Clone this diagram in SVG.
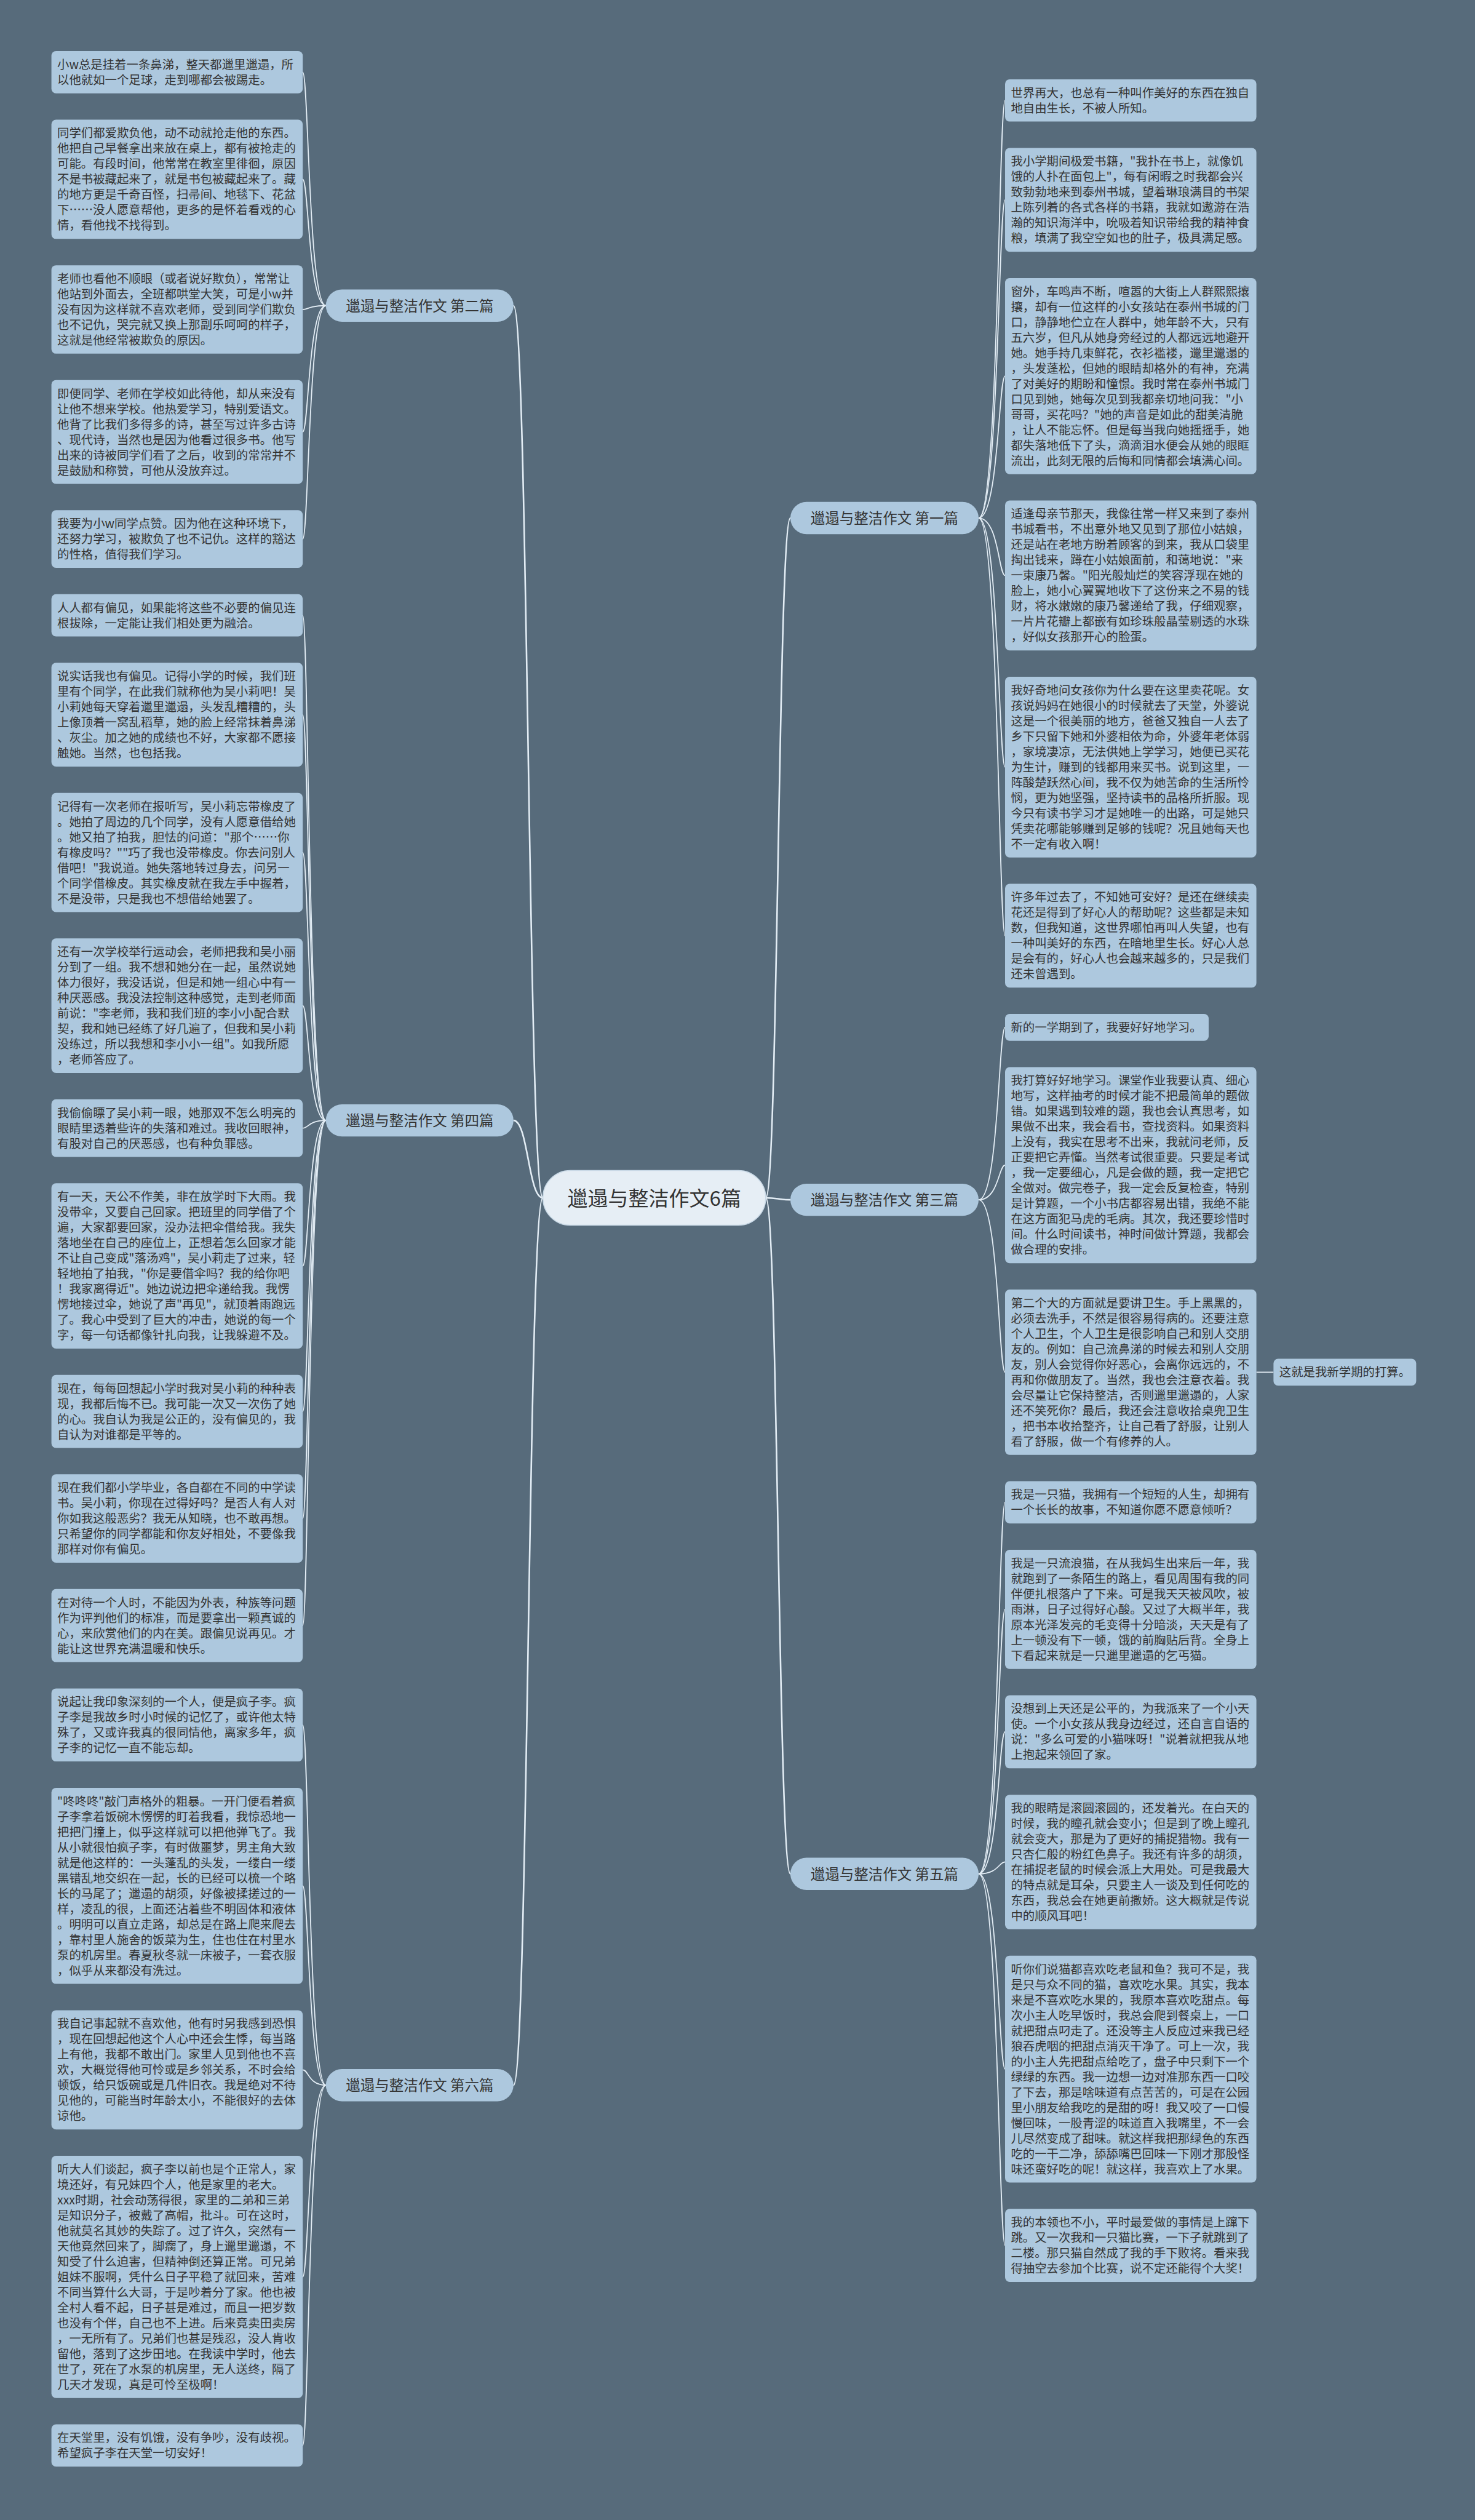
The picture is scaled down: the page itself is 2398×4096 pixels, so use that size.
<svg xmlns="http://www.w3.org/2000/svg" width="2398" height="4096" viewBox="0 0 2398 4096">
<style>
.leaf{fill:#adc8de}
.br{fill:#adc8de}
.t{font-family:"Noto Sans CJK SC","Noto Sans",sans-serif;font-size:19.4px;fill:#333}
.bt{font-family:"Noto Sans CJK SC","Noto Sans",sans-serif;font-size:23.5px;fill:#333;text-anchor:middle}
.ct{font-family:"Noto Sans CJK SC","Noto Sans",sans-serif;font-size:33px;fill:#333;text-anchor:middle}
.c{fill:none;stroke:#e3edf5;stroke-width:1.8}
.cm{fill:none;stroke:#e3edf5;stroke-width:2.6}
</style>
<rect width="2398" height="4096" fill="#576b7b"/>
<g id="connectors">
<path class="cm" d="M882.6 1947 C858.7 1947 858.7 496.75 834.8 496.75"/>
<path class="cm" d="M882.6 1947 C858.7 1947 858.7 1821.14 834.8 1821.14"/>
<path class="cm" d="M882.6 1947 C858.7 1947 858.7 3389.28 834.8 3389.28"/>
<path class="cm" d="M1244.9 1947 C1265 1947 1265 842.06 1285 842.06"/>
<path class="cm" d="M1244.9 1947 C1265 1947 1265 1950.15 1285 1950.15"/>
<path class="cm" d="M1244.9 1947 C1265 1947 1265 3045.74 1285 3045.74"/>
<path class="c" d="M529.8 496.75 C501.6 496.75 501.6 117.46 492.2 117.46"/>
<path class="c" d="M529.8 496.75 C501.6 496.75 501.6 291.48 492.2 291.48"/>
<path class="c" d="M529.8 496.75 C501.6 496.75 501.6 503 492.2 503"/>
<path class="c" d="M529.8 496.75 C501.6 496.75 501.6 702.02 492.2 702.02"/>
<path class="c" d="M529.8 496.75 C501.6 496.75 501.6 876.04 492.2 876.04"/>
<path class="c" d="M529.8 1821.14 C501.6 1821.14 501.6 1000.06 492.2 1000.06"/>
<path class="c" d="M529.8 1821.14 C501.6 1821.14 501.6 1161.58 492.2 1161.58"/>
<path class="c" d="M529.8 1821.14 C501.6 1821.14 501.6 1385.6 492.2 1385.6"/>
<path class="c" d="M529.8 1821.14 C501.6 1821.14 501.6 1634.62 492.2 1634.62"/>
<path class="c" d="M529.8 1821.14 C501.6 1821.14 501.6 1833.64 492.2 1833.64"/>
<path class="c" d="M529.8 1821.14 C501.6 1821.14 501.6 2057.66 492.2 2057.66"/>
<path class="c" d="M529.8 1821.14 C501.6 1821.14 501.6 2294.18 492.2 2294.18"/>
<path class="c" d="M529.8 1821.14 C501.6 1821.14 501.6 2468.2 492.2 2468.2"/>
<path class="c" d="M529.8 1821.14 C501.6 1821.14 501.6 2642.22 492.2 2642.22"/>
<path class="c" d="M529.8 3389.28 C501.6 3389.28 501.6 2803.74 492.2 2803.74"/>
<path class="c" d="M529.8 3389.28 C501.6 3389.28 501.6 3065.26 492.2 3065.26"/>
<path class="c" d="M529.8 3389.28 C501.6 3389.28 501.6 3364.28 492.2 3364.28"/>
<path class="c" d="M529.8 3389.28 C501.6 3389.28 501.6 3700.8 492.2 3700.8"/>
<path class="c" d="M529.8 3389.28 C501.6 3389.28 501.6 3974.82 492.2 3974.82"/>
<path class="c" d="M1591 842.06 C1623.5 842.06 1623.5 163.26 1634 163.26"/>
<path class="c" d="M1591 842.06 C1623.5 842.06 1623.5 324.78 1634 324.78"/>
<path class="c" d="M1591 842.06 C1623.5 842.06 1623.5 611.3 1634 611.3"/>
<path class="c" d="M1591 842.06 C1623.5 842.06 1623.5 935.32 1634 935.32"/>
<path class="c" d="M1591 842.06 C1623.5 842.06 1623.5 1246.84 1634 1246.84"/>
<path class="c" d="M1591 842.06 C1623.5 842.06 1623.5 1520.86 1634 1520.86"/>
<path class="c" d="M1591 1950.15 C1623.5 1950.15 1623.5 1669.88 1634 1669.88"/>
<path class="c" d="M1591 1950.15 C1623.5 1950.15 1623.5 1893.9 1634 1893.9"/>
<path class="c" d="M1591 1950.15 C1623.5 1950.15 1623.5 2230.42 1634 2230.42"/>
<path class="c" d="M1591 3045.74 C1623.5 3045.74 1623.5 2441.94 1634 2441.94"/>
<path class="c" d="M1591 3045.74 C1623.5 3045.74 1623.5 2615.96 1634 2615.96"/>
<path class="c" d="M1591 3045.74 C1623.5 3045.74 1623.5 2814.98 1634 2814.98"/>
<path class="c" d="M1591 3045.74 C1623.5 3045.74 1623.5 3026.5 1634 3026.5"/>
<path class="c" d="M1591 3045.74 C1623.5 3045.74 1623.5 3363.02 1634 3363.02"/>
<path class="c" d="M1591 3045.74 C1623.5 3045.74 1623.5 3649.54 1634 3649.54"/>
<path class="c" d="M2042.6 2230.42 L2070.4 2230.42"/>
</g>
<g id="center">
<rect x="882.6" y="1902.5" width="362.3" height="89" rx="44.5" fill="#e6eef5" stroke="#c9d9e6" stroke-width="1.5"/>
<text class="ct" x="1063.75" y="1959.5">邋遢与整洁作文6篇</text>
</g>
<g id="b2"><rect class="br" x="529.8" y="470.55" width="305" height="52.4" rx="26.2"/><text class="bt" x="682.3" y="505.65">邋遢与整洁作文 第二篇</text></g>
<g id="b4"><rect class="br" x="529.8" y="1794.94" width="305" height="52.4" rx="26.2"/><text class="bt" x="682.3" y="1830.04">邋遢与整洁作文 第四篇</text></g>
<g id="b6"><rect class="br" x="529.8" y="3363.08" width="305" height="52.4" rx="26.2"/><text class="bt" x="682.3" y="3398.18">邋遢与整洁作文 第六篇</text></g>
<g id="b1"><rect class="br" x="1285" y="815.86" width="306" height="52.4" rx="26.2"/><text class="bt" x="1438" y="850.96">邋遢与整洁作文 第一篇</text></g>
<g id="b3"><rect class="br" x="1285" y="1923.95" width="306" height="52.4" rx="26.2"/><text class="bt" x="1438" y="1959.05">邋遢与整洁作文 第三篇</text></g>
<g id="b5"><rect class="br" x="1285" y="3019.54" width="306" height="52.4" rx="26.2"/><text class="bt" x="1438" y="3054.64">邋遢与整洁作文 第五篇</text></g>

<g id="L1"><rect class="leaf" x="83.6" y="83.1" width="408.6" height="68.72" rx="7.5"/><text class="t" x="93" y="111.96"><tspan x="93">小w总是挂着一条鼻涕，整天都邋里邋遢，所</tspan><tspan x="93" dy="25">以他就如一个足球，走到哪都会被踢走。</tspan></text></g>
<g id="L2"><rect class="leaf" x="83.6" y="194.62" width="408.6" height="193.72" rx="7.5"/><text class="t" x="93" y="223.48"><tspan x="93">同学们都爱欺负他，动不动就抢走他的东西。</tspan><tspan x="93" dy="25">他把自己早餐拿出来放在桌上，都有被抢走的</tspan><tspan x="93" dy="25">可能。有段时间，他常常在教室里徘徊，原因</tspan><tspan x="93" dy="25">不是书被藏起来了，就是书包被藏起来了。藏</tspan><tspan x="93" dy="25">的地方更是千奇百怪，扫帚间、地毯下、花盆</tspan><tspan x="93" dy="25">下……没人愿意帮他，更多的是怀着看戏的心</tspan><tspan x="93" dy="25">情，看他找不找得到。</tspan></text></g>
<g id="L3"><rect class="leaf" x="83.6" y="431.14" width="408.6" height="143.72" rx="7.5"/><text class="t" x="93" y="460"><tspan x="93">老师也看他不顺眼（或者说好欺负），常常让</tspan><tspan x="93" dy="25">他站到外面去，全班都哄堂大笑，可是小w并</tspan><tspan x="93" dy="25">没有因为这样就不喜欢老师，受到同学们欺负</tspan><tspan x="93" dy="25">也不记仇，哭完就又换上那副乐呵呵的样子，</tspan><tspan x="93" dy="25">这就是他经常被欺负的原因。</tspan></text></g>
<g id="L4"><rect class="leaf" x="83.6" y="617.66" width="408.6" height="168.72" rx="7.5"/><text class="t" x="93" y="646.52"><tspan x="93">即便同学、老师在学校如此待他，却从来没有</tspan><tspan x="93" dy="25">让他不想来学校。他热爱学习，特别爱语文。</tspan><tspan x="93" dy="25">他背了比我们多得多的诗，甚至写过许多古诗</tspan><tspan x="93" dy="25">、现代诗，当然也是因为他看过很多书。他写</tspan><tspan x="93" dy="25">出来的诗被同学们看了之后，收到的常常并不</tspan><tspan x="93" dy="25">是鼓励和称赞，可他从没放弃过。</tspan></text></g>
<g id="L5"><rect class="leaf" x="83.6" y="829.18" width="408.6" height="93.72" rx="7.5"/><text class="t" x="93" y="858.04"><tspan x="93">我要为小w同学点赞。因为他在这种环境下，</tspan><tspan x="93" dy="25">还努力学习，被欺负了也不记仇。这样的豁达</tspan><tspan x="93" dy="25">的性格，值得我们学习。</tspan></text></g>
<g id="L6"><rect class="leaf" x="83.6" y="965.7" width="408.6" height="68.72" rx="7.5"/><text class="t" x="93" y="994.56"><tspan x="93">人人都有偏见，如果能将这些不必要的偏见连</tspan><tspan x="93" dy="25">根拔除，一定能让我们相处更为融洽。</tspan></text></g>
<g id="L7"><rect class="leaf" x="83.6" y="1077.22" width="408.6" height="168.72" rx="7.5"/><text class="t" x="93" y="1106.08"><tspan x="93">说实话我也有偏见。记得小学的时候，我们班</tspan><tspan x="93" dy="25">里有个同学，在此我们就称他为吴小莉吧！吴</tspan><tspan x="93" dy="25">小莉她每天穿着邋里邋遢，头发乱糟糟的，头</tspan><tspan x="93" dy="25">上像顶着一窝乱稻草，她的脸上经常抹着鼻涕</tspan><tspan x="93" dy="25">、灰尘。加之她的成绩也不好，大家都不愿接</tspan><tspan x="93" dy="25">触她。当然，也包括我。</tspan></text></g>
<g id="L8"><rect class="leaf" x="83.6" y="1288.74" width="408.6" height="193.72" rx="7.5"/><text class="t" x="93" y="1317.6"><tspan x="93">记得有一次老师在报听写，吴小莉忘带橡皮了</tspan><tspan x="93" dy="25">。她拍了周边的几个同学，没有人愿意借给她</tspan><tspan x="93" dy="25">。她又拍了拍我，胆怯的问道："那个……你</tspan><tspan x="93" dy="25">有橡皮吗？""巧了我也没带橡皮。你去问别人</tspan><tspan x="93" dy="25">借吧！"我说道。她失落地转过身去，问另一</tspan><tspan x="93" dy="25">个同学借橡皮。其实橡皮就在我左手中握着，</tspan><tspan x="93" dy="25">不是没带，只是我也不想借给她罢了。</tspan></text></g>
<g id="L9"><rect class="leaf" x="83.6" y="1525.26" width="408.6" height="218.72" rx="7.5"/><text class="t" x="93" y="1554.12"><tspan x="93">还有一次学校举行运动会，老师把我和吴小丽</tspan><tspan x="93" dy="25">分到了一组。我不想和她分在一起，虽然说她</tspan><tspan x="93" dy="25">体力很好，我没话说，但是和她一组心中有一</tspan><tspan x="93" dy="25">种厌恶感。我没法控制这种感觉，走到老师面</tspan><tspan x="93" dy="25">前说："李老师，我和我们班的李小小配合默</tspan><tspan x="93" dy="25">契，我和她已经练了好几遍了，但我和吴小莉</tspan><tspan x="93" dy="25">没练过，所以我想和李小小一组"。如我所愿</tspan><tspan x="93" dy="25">，老师答应了。</tspan></text></g>
<g id="L10"><rect class="leaf" x="83.6" y="1786.78" width="408.6" height="93.72" rx="7.5"/><text class="t" x="93" y="1815.64"><tspan x="93">我偷偷瞟了吴小莉一眼，她那双不怎么明亮的</tspan><tspan x="93" dy="25">眼睛里透着些许的失落和难过。我收回眼神，</tspan><tspan x="93" dy="25">有股对自己的厌恶感，也有种负罪感。</tspan></text></g>
<g id="L11"><rect class="leaf" x="83.6" y="1923.3" width="408.6" height="268.72" rx="7.5"/><text class="t" x="93" y="1952.16"><tspan x="93">有一天，天公不作美，非在放学时下大雨。我</tspan><tspan x="93" dy="25">没带伞，又要自己回家。把班里的同学借了个</tspan><tspan x="93" dy="25">遍，大家都要回家，没办法把伞借给我。我失</tspan><tspan x="93" dy="25">落地坐在自己的座位上，正想着怎么回家才能</tspan><tspan x="93" dy="25">不让自己变成"落汤鸡"，吴小莉走了过来，轻</tspan><tspan x="93" dy="25">轻地拍了拍我，"你是要借伞吗？我的给你吧</tspan><tspan x="93" dy="25">！我家离得近"。她边说边把伞递给我。我愣</tspan><tspan x="93" dy="25">愣地接过伞，她说了声"再见"，就顶着雨跑远</tspan><tspan x="93" dy="25">了。我心中受到了巨大的冲击，她说的每一个</tspan><tspan x="93" dy="25">字，每一句话都像针扎向我，让我躲避不及。</tspan></text></g>
<g id="L12"><rect class="leaf" x="83.6" y="2234.82" width="408.6" height="118.72" rx="7.5"/><text class="t" x="93" y="2263.68"><tspan x="93">现在，每每回想起小学时我对吴小莉的种种表</tspan><tspan x="93" dy="25">现，我都后悔不已。我可能一次又一次伤了她</tspan><tspan x="93" dy="25">的心。我自认为我是公正的，没有偏见的，我</tspan><tspan x="93" dy="25">自认为对谁都是平等的。</tspan></text></g>
<g id="L13"><rect class="leaf" x="83.6" y="2396.34" width="408.6" height="143.72" rx="7.5"/><text class="t" x="93" y="2425.2"><tspan x="93">现在我们都小学毕业，各自都在不同的中学读</tspan><tspan x="93" dy="25">书。吴小莉，你现在过得好吗？是否人有人对</tspan><tspan x="93" dy="25">你如我这般恶劣？我无从知晓，也不敢再想。</tspan><tspan x="93" dy="25">只希望你的同学都能和你友好相处，不要像我</tspan><tspan x="93" dy="25">那样对你有偏见。</tspan></text></g>
<g id="L14"><rect class="leaf" x="83.6" y="2582.86" width="408.6" height="118.72" rx="7.5"/><text class="t" x="93" y="2611.72"><tspan x="93">在对待一个人时，不能因为外表，种族等问题</tspan><tspan x="93" dy="25">作为评判他们的标准，而是要拿出一颗真诚的</tspan><tspan x="93" dy="25">心，来欣赏他们的内在美。跟偏见说再见。才</tspan><tspan x="93" dy="25">能让这世界充满温暖和快乐。</tspan></text></g>
<g id="L15"><rect class="leaf" x="83.6" y="2744.38" width="408.6" height="118.72" rx="7.5"/><text class="t" x="93" y="2773.24"><tspan x="93">说起让我印象深刻的一个人，便是疯子李。疯</tspan><tspan x="93" dy="25">子李是我故乡时小时候的记忆了，或许他太特</tspan><tspan x="93" dy="25">殊了，又或许我真的很同情他，离家多年，疯</tspan><tspan x="93" dy="25">子李的记忆一直不能忘却。</tspan></text></g>
<g id="L16"><rect class="leaf" x="83.6" y="2905.9" width="408.6" height="318.72" rx="7.5"/><text class="t" x="93" y="2934.76"><tspan x="93">"咚咚咚"敲门声格外的粗暴。一开门便看着疯</tspan><tspan x="93" dy="25">子李拿着饭碗木愣愣的盯着我看，我惊恐地一</tspan><tspan x="93" dy="25">把把门撞上，似乎这样就可以把他弹飞了。我</tspan><tspan x="93" dy="25">从小就很怕疯子李，有时做噩梦，男主角大致</tspan><tspan x="93" dy="25">就是他这样的：一头蓬乱的头发，一缕白一缕</tspan><tspan x="93" dy="25">黑错乱地交织在一起，长的已经可以梳一个略</tspan><tspan x="93" dy="25">长的马尾了；邋遢的胡须，好像被揉搓过的一</tspan><tspan x="93" dy="25">样，凌乱的很，上面还沾着些不明固体和液体</tspan><tspan x="93" dy="25">。明明可以直立走路，却总是在路上爬来爬去</tspan><tspan x="93" dy="25">，靠村里人施舍的饭菜为生，住也住在村里水</tspan><tspan x="93" dy="25">泵的机房里。春夏秋冬就一床被子，一套衣服</tspan><tspan x="93" dy="25">，似乎从来都没有洗过。</tspan></text></g>
<g id="L17"><rect class="leaf" x="83.6" y="3267.42" width="408.6" height="193.72" rx="7.5"/><text class="t" x="93" y="3296.28"><tspan x="93">我自记事起就不喜欢他，他有时另我感到恐惧</tspan><tspan x="93" dy="25">，现在回想起他这个人心中还会生悸，每当路</tspan><tspan x="93" dy="25">上有他，我都不敢出门。家里人见到他也不喜</tspan><tspan x="93" dy="25">欢，大概觉得他可怜或是乡邻关系，不时会给</tspan><tspan x="93" dy="25">顿饭，给只饭碗或是几件旧衣。我是绝对不待</tspan><tspan x="93" dy="25">见他的，可能当时年龄太小，不能很好的去体</tspan><tspan x="93" dy="25">谅他。</tspan></text></g>
<g id="L18"><rect class="leaf" x="83.6" y="3503.94" width="408.6" height="393.72" rx="7.5"/><text class="t" x="93" y="3532.8"><tspan x="93">听大人们谈起，疯子李以前也是个正常人，家</tspan><tspan x="93" dy="25">境还好，有兄妹四个人，他是家里的老大。</tspan><tspan x="93" dy="25">xxx时期，社会动荡得很，家里的二弟和三弟</tspan><tspan x="93" dy="25">是知识分子，被戴了高帽，批斗。可在这时，</tspan><tspan x="93" dy="25">他就莫名其妙的失踪了。过了许久，突然有一</tspan><tspan x="93" dy="25">天他竟然回来了，脚瘸了，身上邋里邋遢，不</tspan><tspan x="93" dy="25">知受了什么迫害，但精神倒还算正常。可兄弟</tspan><tspan x="93" dy="25">姐妹不服啊，凭什么日子平稳了就回来，苦难</tspan><tspan x="93" dy="25">不同当算什么大哥，于是吵着分了家。他也被</tspan><tspan x="93" dy="25">全村人看不起，日子甚是难过，而且一把岁数</tspan><tspan x="93" dy="25">也没有个伴，自己也不上进。后来竟卖田卖房</tspan><tspan x="93" dy="25">，一无所有了。兄弟们也甚是残忍，没人肯收</tspan><tspan x="93" dy="25">留他，落到了这步田地。在我读中学时，他去</tspan><tspan x="93" dy="25">世了，死在了水泵的机房里，无人送终，隔了</tspan><tspan x="93" dy="25">几天才发现，真是可怜至极啊！</tspan></text></g>
<g id="L19"><rect class="leaf" x="83.6" y="3940.46" width="408.6" height="68.72" rx="7.5"/><text class="t" x="93" y="3969.32"><tspan x="93">在天堂里，没有饥饿，没有争吵，没有歧视。</tspan><tspan x="93" dy="25">希望疯子李在天堂一切安好！</tspan></text></g>

<g id="R1"><rect class="leaf" x="1634" y="128.9" width="408.6" height="68.72" rx="7.5"/><text class="t" x="1643.4" y="157.76"><tspan x="1643.4">世界再大，也总有一种叫作美好的东西在独自</tspan><tspan x="1643.4" dy="25">地自由生长，不被人所知。</tspan></text></g>
<g id="R2"><rect class="leaf" x="1634" y="240.42" width="408.6" height="168.72" rx="7.5"/><text class="t" x="1643.4" y="269.28"><tspan x="1643.4">我小学期间极爱书籍，"我扑在书上，就像饥</tspan><tspan x="1643.4" dy="25">饿的人扑在面包上"，每有闲暇之时我都会兴</tspan><tspan x="1643.4" dy="25">致勃勃地来到泰州书城，望着琳琅满目的书架</tspan><tspan x="1643.4" dy="25">上陈列着的各式各样的书籍，我就如遨游在浩</tspan><tspan x="1643.4" dy="25">瀚的知识海洋中，吮吸着知识带给我的精神食</tspan><tspan x="1643.4" dy="25">粮，填满了我空空如也的肚子，极具满足感。</tspan></text></g>
<g id="R3"><rect class="leaf" x="1634" y="451.94" width="408.6" height="318.72" rx="7.5"/><text class="t" x="1643.4" y="480.8"><tspan x="1643.4">窗外，车鸣声不断，喧嚣的大街上人群熙熙攘</tspan><tspan x="1643.4" dy="25">攘，却有一位这样的小女孩站在泰州书城的门</tspan><tspan x="1643.4" dy="25">口，静静地伫立在人群中，她年龄不大，只有</tspan><tspan x="1643.4" dy="25">五六岁，但凡从她身旁经过的人都远远地避开</tspan><tspan x="1643.4" dy="25">她。她手持几束鲜花，衣衫褴褛，邋里邋遢的</tspan><tspan x="1643.4" dy="25">，头发蓬松，但她的眼睛却格外的有神，充满</tspan><tspan x="1643.4" dy="25">了对美好的期盼和憧憬。我时常在泰州书城门</tspan><tspan x="1643.4" dy="25">口见到她，她每次见到我都亲切地问我："小</tspan><tspan x="1643.4" dy="25">哥哥，买花吗？"她的声音是如此的甜美清脆</tspan><tspan x="1643.4" dy="25">，让人不能忘怀。但是每当我向她摇摇手，她</tspan><tspan x="1643.4" dy="25">都失落地低下了头，滴滴泪水便会从她的眼眶</tspan><tspan x="1643.4" dy="25">流出，此刻无限的后悔和同情都会填满心间。</tspan></text></g>
<g id="R4"><rect class="leaf" x="1634" y="813.46" width="408.6" height="243.72" rx="7.5"/><text class="t" x="1643.4" y="842.32"><tspan x="1643.4">适逢母亲节那天，我像往常一样又来到了泰州</tspan><tspan x="1643.4" dy="25">书城看书，不出意外地又见到了那位小姑娘，</tspan><tspan x="1643.4" dy="25">还是站在老地方盼着顾客的到来，我从口袋里</tspan><tspan x="1643.4" dy="25">掏出钱来，蹲在小姑娘面前，和蔼地说："来</tspan><tspan x="1643.4" dy="25">一束康乃馨。"阳光般灿烂的笑容浮现在她的</tspan><tspan x="1643.4" dy="25">脸上，她小心翼翼地收下了这份来之不易的钱</tspan><tspan x="1643.4" dy="25">财，将水嫩嫩的康乃馨递给了我，仔细观察，</tspan><tspan x="1643.4" dy="25">一片片花瓣上都嵌有如珍珠般晶莹剔透的水珠</tspan><tspan x="1643.4" dy="25">，好似女孩那开心的脸蛋。</tspan></text></g>
<g id="R5"><rect class="leaf" x="1634" y="1099.98" width="408.6" height="293.72" rx="7.5"/><text class="t" x="1643.4" y="1128.84"><tspan x="1643.4">我好奇地问女孩你为什么要在这里卖花呢。女</tspan><tspan x="1643.4" dy="25">孩说妈妈在她很小的时候就去了天堂，外婆说</tspan><tspan x="1643.4" dy="25">这是一个很美丽的地方，爸爸又独自一人去了</tspan><tspan x="1643.4" dy="25">乡下只留下她和外婆相依为命，外婆年老体弱</tspan><tspan x="1643.4" dy="25">，家境凄凉，无法供她上学学习，她便已买花</tspan><tspan x="1643.4" dy="25">为生计，赚到的钱都用来买书。说到这里，一</tspan><tspan x="1643.4" dy="25">阵酸楚跃然心间，我不仅为她苦命的生活所怜</tspan><tspan x="1643.4" dy="25">悯，更为她坚强，坚持读书的品格所折服。现</tspan><tspan x="1643.4" dy="25">今只有读书学习才是她唯一的出路，可是她只</tspan><tspan x="1643.4" dy="25">凭卖花哪能够赚到足够的钱呢？况且她每天也</tspan><tspan x="1643.4" dy="25">不一定有收入啊！</tspan></text></g>
<g id="R6"><rect class="leaf" x="1634" y="1436.5" width="408.6" height="168.72" rx="7.5"/><text class="t" x="1643.4" y="1465.36"><tspan x="1643.4">许多年过去了，不知她可安好？是还在继续卖</tspan><tspan x="1643.4" dy="25">花还是得到了好心人的帮助呢？这些都是未知</tspan><tspan x="1643.4" dy="25">数，但我知道，这世界哪怕再叫人失望，也有</tspan><tspan x="1643.4" dy="25">一种叫美好的东西，在暗地里生长。好心人总</tspan><tspan x="1643.4" dy="25">是会有的，好心人也会越来越多的，只是我们</tspan><tspan x="1643.4" dy="25">还未曾遇到。</tspan></text></g>
<g id="R7"><rect class="leaf" x="1634" y="1648.02" width="331" height="43.72" rx="7.5"/><text class="t" x="1643.4" y="1676.88">新的一学期到了，我要好好地学习。</text></g>
<g id="R8"><rect class="leaf" x="1634" y="1734.54" width="408.6" height="318.72" rx="7.5"/><text class="t" x="1643.4" y="1763.4"><tspan x="1643.4">我打算好好地学习。课堂作业我要认真、细心</tspan><tspan x="1643.4" dy="25">地写，这样抽考的时候才能不把最简单的题做</tspan><tspan x="1643.4" dy="25">错。如果遇到较难的题，我也会认真思考，如</tspan><tspan x="1643.4" dy="25">果做不出来，我会看书，查找资料。如果资料</tspan><tspan x="1643.4" dy="25">上没有，我实在思考不出来，我就问老师，反</tspan><tspan x="1643.4" dy="25">正要把它弄懂。当然考试很重要。只要是考试</tspan><tspan x="1643.4" dy="25">，我一定要细心，凡是会做的题，我一定把它</tspan><tspan x="1643.4" dy="25">全做对。做完卷子，我一定会反复检查，特别</tspan><tspan x="1643.4" dy="25">是计算题，一个小书店都容易出错，我绝不能</tspan><tspan x="1643.4" dy="25">在这方面犯马虎的毛病。其次，我还要珍惜时</tspan><tspan x="1643.4" dy="25">间。什么时间读书，神时间做计算题，我都会</tspan><tspan x="1643.4" dy="25">做合理的安排。</tspan></text></g>
<g id="R9"><rect class="leaf" x="1634" y="2096.06" width="408.6" height="268.72" rx="7.5"/><text class="t" x="1643.4" y="2124.92"><tspan x="1643.4">第二个大的方面就是要讲卫生。手上黑黑的，</tspan><tspan x="1643.4" dy="25">必须去洗手，不然是很容易得病的。还要注意</tspan><tspan x="1643.4" dy="25">个人卫生，个人卫生是很影响自己和别人交朋</tspan><tspan x="1643.4" dy="25">友的。例如：自己流鼻涕的时候去和别人交朋</tspan><tspan x="1643.4" dy="25">友，别人会觉得你好恶心，会离你远远的，不</tspan><tspan x="1643.4" dy="25">再和你做朋友了。当然，我也会注意衣着。我</tspan><tspan x="1643.4" dy="25">会尽量让它保持整洁，否则邋里邋遢的，人家</tspan><tspan x="1643.4" dy="25">还不笑死你？最后，我还会注意收拾桌兜卫生</tspan><tspan x="1643.4" dy="25">，把书本收拾整齐，让自己看了舒服，让别人</tspan><tspan x="1643.4" dy="25">看了舒服，做一个有修养的人。</tspan></text></g>
<g id="E1"><rect class="leaf" x="2070.4" y="2208.56" width="232" height="43.72" rx="7.5"/><text class="t" x="2079.8" y="2237.42">这就是我新学期的打算。</text></g>
<g id="R10"><rect class="leaf" x="1634" y="2407.58" width="408.6" height="68.72" rx="7.5"/><text class="t" x="1643.4" y="2436.44"><tspan x="1643.4">我是一只猫，我拥有一个短短的人生，却拥有</tspan><tspan x="1643.4" dy="25">一个长长的故事，不知道你愿不愿意倾听？</tspan></text></g>
<g id="R11"><rect class="leaf" x="1634" y="2519.1" width="408.6" height="193.72" rx="7.5"/><text class="t" x="1643.4" y="2547.96"><tspan x="1643.4">我是一只流浪猫，在从我妈生出来后一年，我</tspan><tspan x="1643.4" dy="25">就跑到了一条陌生的路上，看见周围有我的同</tspan><tspan x="1643.4" dy="25">伴便扎根落户了下来。可是我天天被风吹，被</tspan><tspan x="1643.4" dy="25">雨淋，日子过得好心酸。又过了大概半年，我</tspan><tspan x="1643.4" dy="25">原本光泽发亮的毛变得十分暗淡，天天是有了</tspan><tspan x="1643.4" dy="25">上一顿没有下一顿，饿的前胸贴后背。全身上</tspan><tspan x="1643.4" dy="25">下看起来就是一只邋里邋遢的乞丐猫。</tspan></text></g>
<g id="R12"><rect class="leaf" x="1634" y="2755.62" width="408.6" height="118.72" rx="7.5"/><text class="t" x="1643.4" y="2784.48"><tspan x="1643.4">没想到上天还是公平的，为我派来了一个小天</tspan><tspan x="1643.4" dy="25">使。一个小女孩从我身边经过，还自言自语的</tspan><tspan x="1643.4" dy="25">说："多么可爱的小猫咪呀！"说着就把我从地</tspan><tspan x="1643.4" dy="25">上抱起来领回了家。</tspan></text></g>
<g id="R13"><rect class="leaf" x="1634" y="2917.14" width="408.6" height="218.72" rx="7.5"/><text class="t" x="1643.4" y="2946"><tspan x="1643.4">我的眼睛是滚圆滚圆的，还发着光。在白天的</tspan><tspan x="1643.4" dy="25">时候，我的瞳孔就会变小；但是到了晚上瞳孔</tspan><tspan x="1643.4" dy="25">就会变大，那是为了更好的捕捉猎物。我有一</tspan><tspan x="1643.4" dy="25">只杏仁般的粉红色鼻子。我还有许多的胡须，</tspan><tspan x="1643.4" dy="25">在捕捉老鼠的时候会派上大用处。可是我最大</tspan><tspan x="1643.4" dy="25">的特点就是耳朵，只要主人一谈及到任何吃的</tspan><tspan x="1643.4" dy="25">东西，我总会在她更前撒娇。这大概就是传说</tspan><tspan x="1643.4" dy="25">中的顺风耳吧！</tspan></text></g>
<g id="R14"><rect class="leaf" x="1634" y="3178.66" width="408.6" height="368.72" rx="7.5"/><text class="t" x="1643.4" y="3207.52"><tspan x="1643.4">听你们说猫都喜欢吃老鼠和鱼？我可不是，我</tspan><tspan x="1643.4" dy="25">是只与众不同的猫，喜欢吃水果。其实，我本</tspan><tspan x="1643.4" dy="25">来是不喜欢吃水果的，我原本喜欢吃甜点。每</tspan><tspan x="1643.4" dy="25">次小主人吃早饭时，我总会爬到餐桌上，一口</tspan><tspan x="1643.4" dy="25">就把甜点叼走了。还没等主人反应过来我已经</tspan><tspan x="1643.4" dy="25">狼吞虎咽的把甜点消灭干净了。可上一次，我</tspan><tspan x="1643.4" dy="25">的小主人先把甜点给吃了，盘子中只剩下一个</tspan><tspan x="1643.4" dy="25">绿绿的东西。我一边想一边对准那东西一口咬</tspan><tspan x="1643.4" dy="25">了下去，那是啥味道有点苦苦的，可是在公园</tspan><tspan x="1643.4" dy="25">里小朋友给我吃的是甜的呀！我又咬了一口慢</tspan><tspan x="1643.4" dy="25">慢回味，一股青涩的味道直入我嘴里，不一会</tspan><tspan x="1643.4" dy="25">儿尽然变成了甜味。就这样我把那绿色的东西</tspan><tspan x="1643.4" dy="25">吃的一干二净，舔舔嘴巴回味一下刚才那股怪</tspan><tspan x="1643.4" dy="25">味还蛮好吃的呢！就这样，我喜欢上了水果。</tspan></text></g>
<g id="R15"><rect class="leaf" x="1634" y="3590.18" width="408.6" height="118.72" rx="7.5"/><text class="t" x="1643.4" y="3619.04"><tspan x="1643.4">我的本领也不小，平时最爱做的事情是上蹿下</tspan><tspan x="1643.4" dy="25">跳。又一次我和一只猫比赛，一下子就跳到了</tspan><tspan x="1643.4" dy="25">二楼。那只猫自然成了我的手下败将。看来我</tspan><tspan x="1643.4" dy="25">得抽空去参加个比赛，说不定还能得个大奖！</tspan></text></g>
</svg>
